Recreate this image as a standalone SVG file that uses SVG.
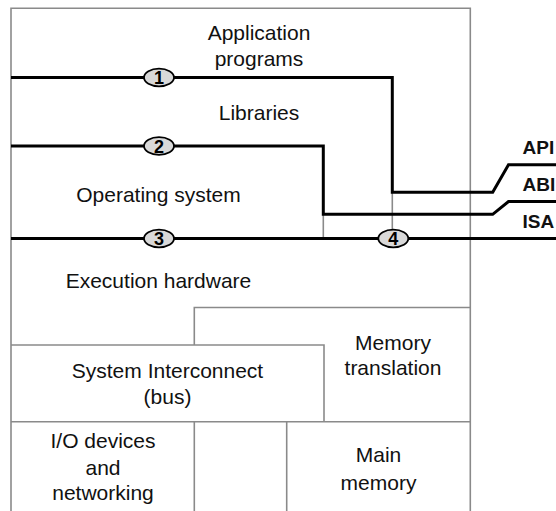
<svg xmlns="http://www.w3.org/2000/svg" width="556" height="511" viewBox="0 0 556 511">
<style>
.box{fill:none;stroke:#8a8a8a;stroke-width:1.6}
.lbl{font-family:"Liberation Sans",Arial,sans-serif;font-size:21px;fill:#111;text-anchor:middle}
.ifc{font-family:"Liberation Sans",Arial,sans-serif;font-size:19px;font-weight:bold;fill:#111}
.wire{fill:none;stroke:#000;stroke-width:3;stroke-linejoin:miter}
.badge ellipse{fill:#d9d9d9;stroke:#000;stroke-width:1.8}
.badge text{font-family:"Liberation Sans",Arial,sans-serif;font-size:18px;font-weight:bold;fill:#000;text-anchor:middle}
</style>
<rect width="556" height="511" fill="#fff"/>
<g id="structure">
<path class="box" d="M11,520 V8.3 H470.3 V520"/>
<path class="box" d="M392.3,192 V238"/>
<path class="box" d="M323.3,214 V238"/>
<path class="box" d="M194.3,345 V307.5 H470.3"/>
<path class="box" d="M11,345 H324 V421.7"/>
<path class="box" d="M11,421.7 H470.3"/>
<path class="box" d="M194.3,421.7 V520"/>
<path class="box" d="M286.7,421.7 V520"/>
</g>
<g id="application-programs"><text class="lbl" x="259" y="40">Application</text><text class="lbl" x="259" y="66">programs</text></g>
<g id="libraries"><text class="lbl" x="259" y="120">Libraries</text></g>
<g id="operating-system"><text class="lbl" x="158.5" y="201.5">Operating system</text></g>
<g id="execution-hardware"><text class="lbl" x="158.5" y="288">Execution hardware</text></g>
<g id="system-interconnect"><text class="lbl" x="167.5" y="378">System Interconnect</text><text class="lbl" x="167.5" y="404">(bus)</text></g>
<g id="memory-translation"><text class="lbl" x="393" y="350">Memory</text><text class="lbl" x="393" y="375">translation</text></g>
<g id="io-devices"><text class="lbl" x="103" y="448">I/O devices</text><text class="lbl" x="103" y="475">and</text><text class="lbl" x="103" y="500">networking</text></g>
<g id="main-memory"><text class="lbl" x="378.5" y="462">Main</text><text class="lbl" x="378.5" y="490">memory</text></g>
<g id="connectors">
<path class="wire" d="M11,77.5 H392.3 V192.3 H492.7 L508.5,164.7 H556"/>
<path class="wire" d="M11,146 H323.3 V214.3 H492.7 L508.5,201.5 H556"/>
<path class="wire" d="M11,238.5 H556"/>
</g>
<g id="badge-1" class="badge"><ellipse cx="159" cy="77.5" rx="15" ry="8.8"/><text x="159" y="84">1</text></g>
<g id="badge-2" class="badge"><ellipse cx="159" cy="146" rx="15" ry="8.8"/><text x="159" y="152.5">2</text></g>
<g id="badge-3" class="badge"><ellipse cx="159" cy="238.5" rx="15" ry="8.8"/><text x="159" y="245">3</text></g>
<g id="badge-4" class="badge"><ellipse cx="393.3" cy="238.5" rx="15" ry="8.8"/><text x="393.3" y="245">4</text></g>
<g id="api"><text class="ifc" x="522.5" y="154">API</text></g>
<g id="abi"><text class="ifc" x="522.5" y="191">ABI</text></g>
<g id="isa"><text class="ifc" x="522.5" y="227.5">ISA</text></g>
</svg>
